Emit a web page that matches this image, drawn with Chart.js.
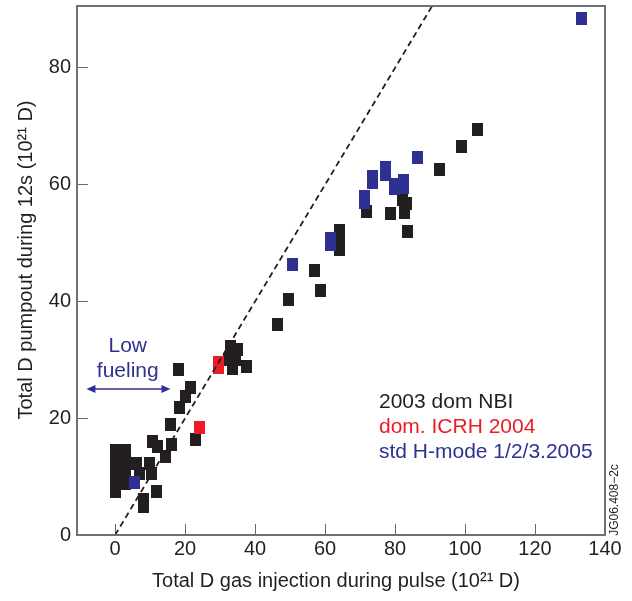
<!DOCTYPE html>
<html>
<head>
<meta charset="utf-8">
<script src="https://cdn.jsdelivr.net/npm/chart.js@4.4.0/dist/chart.umd.min.js"></script>
<style>
    html, body { margin: 0; padding: 0; background: #fff; }
    #wrap { width: 632px; height: 601px; }
</style>
</head>
<body>
<div id="wrap"><canvas id="pumpChart" width="632" height="601"></canvas></div>
<script>
// 2003 dom NBI (black)
const nbiX = [0.2, 0.2, 0.2, 0.2, 0.2, 0.2, 3.1, 3.1, 3.1, 3.1, 3.1,
    6.1, 7.0, 9.7, 10.5, 11.9, 8.2, 8.2, 10.8, 12.2, 16.2, 14.3, 15.9,
    18.5, 20.1, 21.6, 18.2, 23.0,
    33.0, 34.9, 32.4, 34.4, 33.5, 37.5,
    46.4, 49.6, 57.0, 58.7, 64.2, 64.2, 64.2, 71.9, 78.8, 82.2, 83.3, 82.7, 83.6,
    92.7, 99.0, 103.5];
const nbiY = [14.5, 13.2, 11.8, 10.4, 9.1, 7.5, 14.5, 12.8, 11.1, 9.8, 8.8,
    12.2, 10.6, 12.2, 10.6, 7.5, 6.0, 4.9, 16.0, 15.1, 15.5, 13.4, 19.0,
    21.8, 23.7, 25.2, 28.3, 16.3,
    32.3, 31.7, 30.1, 30.1, 28.5, 28.9,
    36.1, 40.4, 45.3, 41.9, 52.2, 50.4, 48.9, 55.4, 55.1, 57.5, 56.8, 55.3, 52.0,
    62.6, 66.6, 69.5];

// dom. ICRH 2004 (red)
const icrhX = [24.0, 29.4, 29.4];
const icrhY = [18.4, 29.5, 28.7];

// std H-mode 1/2/3.2005 (blue)
const hmodeX = [5.4, 50.7, 61.6, 61.6, 71.3, 71.3, 73.6, 73.6, 77.3, 77.3,
    79.7, 79.7, 82.5, 82.5, 86.4, 133.2];
const hmodeY = [9.0, 46.4, 50.8, 49.8, 58.0, 57.0, 61.4, 60.4, 62.9, 61.8,
    60.0, 59.3, 60.7, 59.6, 64.7, 88.4];

// 1:1 reference line
const refX = [0, 90.6];
const refY = [0, 90.6];

const xTicks = [0, 20, 40, 60, 80, 100, 120, 140];
const yTicks = [0, 20, 40, 60, 80];
const seriesLabels = ['2003 dom NBI', 'dom. ICRH 2004', 'std H-mode 1/2/3.2005'];

const FONT = '"Liberation Sans", Arial, sans-serif';
const TEXT = '#231f20';
const BLACK = '#231f20';
const RED = '#ed1c24';
const BLUE = '#2e3192';
const AXIS = '#707070';

// annotation placement (data units)
const lowFuel = { textX: 3.6, line1Y: 31.4, line2Y: 27.1, arrowFrom: -8.2, arrowTo: 15.8, arrowY: 25.0 };

function toPoints(xs, ys) {
    return xs.map((x, i) => ({ x: x, y: ys[i] }));
}

function rectMarker(color, w, h) {
    const c = document.createElement('canvas');
    c.width = w;
    c.height = h;
    const g = c.getContext('2d');
    g.fillStyle = color;
    g.fillRect(0, 0, w, h);
    return c;
}

function drawArrowHead(ctx, x, y, dir) {
    ctx.beginPath();
    ctx.moveTo(x, y);
    ctx.lineTo(x - dir * 9, y - 4);
    ctx.lineTo(x - dir * 9, y + 4);
    ctx.closePath();
    ctx.fill();
}

// keep the plot box where the reference has it
function fixBox(size) {
    return s => {
        if (s.isHorizontal()) s.height = size; else s.width = size;
        s.paddingTop = 0;
        s.paddingBottom = 0;
        s.paddingLeft = 0;
        s.paddingRight = 0;
    };
}

// box, titles, legend text and annotations
const overlayPlugin = {
    id: 'overlay',
    afterDraw(chart) {
        const { ctx, chartArea: a, scales: { x, y } } = chart;
        ctx.save();

        ctx.strokeStyle = AXIS;
        ctx.lineWidth = 2;
        ctx.strokeRect(a.left, a.top, a.right - a.left, a.bottom - a.top);

        // axis titles
        ctx.fillStyle = TEXT;
        ctx.font = '20px ' + FONT;
        ctx.textAlign = 'center';
        ctx.textBaseline = 'alphabetic';
        ctx.fillText('Total D gas injection during pulse (10\u00b2\u00b9 D)', 336, 587);
        ctx.save();
        ctx.translate(32, 260);
        ctx.rotate(-Math.PI / 2);
        ctx.fillText('Total D pumpout during 12s (10\u00b2\u00b9 D)', 0, 0);
        ctx.restore();

        // series labels
        ctx.font = '21px ' + FONT;
        ctx.textAlign = 'left';
        const colors = [TEXT, RED, BLUE];
        seriesLabels.forEach((label, i) => {
            ctx.fillStyle = colors[i];
            ctx.fillText(label, 379, 408 + i * 25);
        });

        // low fueling note
        ctx.fillStyle = BLUE;
        ctx.strokeStyle = BLUE;
        ctx.textAlign = 'center';
        const tx = x.getPixelForValue(lowFuel.textX);
        ctx.fillText('Low', tx, y.getPixelForValue(lowFuel.line1Y));
        ctx.fillText('fueling', tx, y.getPixelForValue(lowFuel.line2Y));
        const ax1 = x.getPixelForValue(lowFuel.arrowFrom);
        const ax2 = x.getPixelForValue(lowFuel.arrowTo);
        const ay = y.getPixelForValue(lowFuel.arrowY);
        ctx.lineWidth = 1.5;
        ctx.beginPath();
        ctx.moveTo(ax1 + 6, ay);
        ctx.lineTo(ax2 - 6, ay);
        ctx.stroke();
        drawArrowHead(ctx, ax1, ay, -1);
        drawArrowHead(ctx, ax2, ay, 1);

        // figure code
        ctx.fillStyle = TEXT;
        ctx.font = '12px ' + FONT;
        ctx.save();
        ctx.translate(618, 500);
        ctx.rotate(-Math.PI / 2);
        ctx.fillText('JG06.408\u22122c', 0, 0);
        ctx.restore();

        ctx.restore();
    }
};

const ctx = document.getElementById('pumpChart').getContext('2d');
new Chart(ctx, {
    type: 'scatter',
    data: {
        datasets: [{
            label: '1:1',
            data: toPoints(refX, refY),
            showLine: true,
            borderColor: BLACK,
            borderWidth: 1.8,
            borderDash: [6, 4],
            pointRadius: 0,
            order: 0
        }, {
            label: seriesLabels[2],
            data: toPoints(hmodeX, hmodeY),
            pointStyle: rectMarker(BLUE, 11, 13),
            pointRadius: 5,
            order: 1
        }, {
            label: seriesLabels[1],
            data: toPoints(icrhX, icrhY),
            pointStyle: rectMarker(RED, 11, 13),
            pointRadius: 5,
            order: 2
        }, {
            label: seriesLabels[0],
            data: toPoints(nbiX, nbiY),
            pointStyle: rectMarker(BLACK, 11, 13),
            pointRadius: 5,
            order: 3
        }]
    },
    options: {
        responsive: false,
        animation: false,
        events: [],
        layout: {
            padding: { top: 6, right: 27, left: 0, bottom: 0 }
        },
        plugins: {
            legend: { display: false },
            tooltip: { enabled: false }
        },
        scales: {
            x: {
                type: 'linear',
                min: -10.9,
                max: 140,
                afterBuildTicks: s => { s.ticks = xTicks.map(v => ({ value: v })); },
                afterFit: fixBox(66),
                border: { display: false },
                grid: { drawOnChartArea: false, tickLength: -11, color: '#6a6a6a', lineWidth: 1 },
                ticks: { color: TEXT, font: { family: FONT, size: 20 }, padding: 13, maxRotation: 0, autoSkip: false }
            },
            y: {
                type: 'linear',
                min: 0,
                max: 90.6,
                afterBuildTicks: s => { s.ticks = yTicks.map(v => ({ value: v })); },
                afterFit: fixBox(77),
                border: { display: false },
                grid: { drawOnChartArea: false, tickLength: -11, color: '#6a6a6a', lineWidth: 1 },
                ticks: { color: TEXT, font: { family: FONT, size: 20 }, padding: 17, autoSkip: false }
            }
        }
    },
    plugins: [overlayPlugin]
});
</script>
</body>
</html>
